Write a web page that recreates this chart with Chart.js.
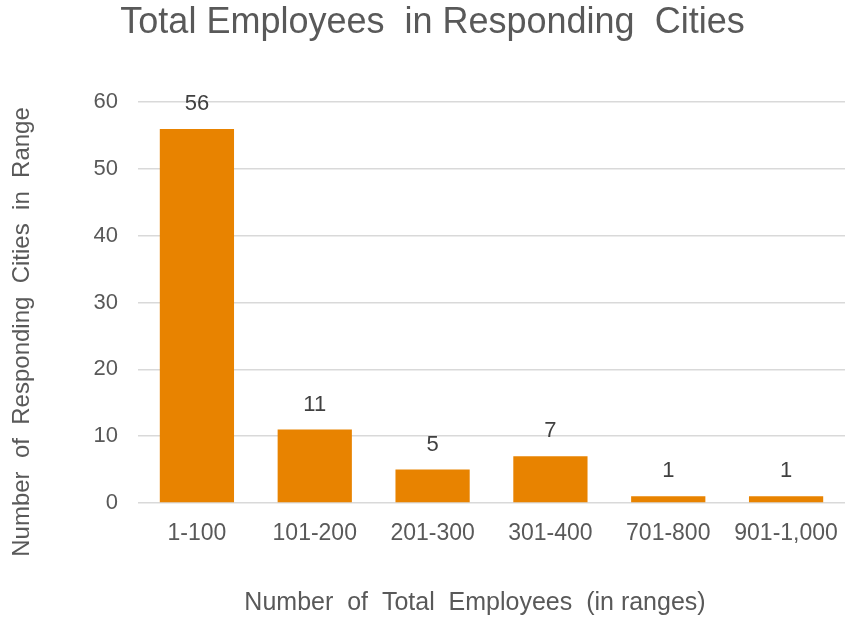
<!DOCTYPE html>
<html>
<head>
<meta charset="utf-8">
<script src="https://cdn.jsdelivr.net/npm/chart.js@4"></script>
<style>
  html, body { margin: 0; padding: 0; background: #fff; }
  #wrap { width: 849px; height: 621px; }
</style>
</head>
<body>
<div id="wrap"><canvas id="myChart" width="849" height="621"></canvas></div>
<script>
let categories = ['1-100', '101-200', '201-300', '301-400', '701-800', '901-1,000'];
let cityCounts = [56, 11, 5, 7, 1, 1];
let yTicks = [0, 10, 20, 30, 40, 50, 60];

let textGray = '#595959';
let barColor = '#E88300';
let fontName = '"Liberation Sans", Arial, sans-serif';

// value labels above each bar + the two axis titles
let extraText = {
  id: 'extraText',
  afterDatasetsDraw(chart) {
    let ctx = chart.ctx;
    let meta = chart.getDatasetMeta(0);
    ctx.save();
    ctx.font = '22px ' + fontName;
    ctx.fillStyle = '#404040';
    ctx.textAlign = 'center';
    ctx.textBaseline = 'middle';
    meta.data.forEach((bar, i) => {
      ctx.fillText(cityCounts[i], bar.x, bar.y - 25);
    });

    ctx.fillStyle = textGray;
    ctx.font = '25px ' + fontName;
    ctx.fillText('Number  of  Total  Employees  (in ranges)', 475, 603);

    ctx.font = '24px ' + fontName;
    ctx.translate(22, 332);
    ctx.rotate(-Math.PI / 2);
    ctx.fillText('Number  of  Responding  Cities  in  Range', 0, 0);
    ctx.restore();
  }
};

let ctx1 = document.getElementById('myChart').getContext('2d');
let myChart = new Chart(ctx1, {
  type: 'bar',
  data: {
    labels: categories,
    datasets: [{
      data: cityCounts,
      backgroundColor: barColor,
      borderWidth: 0,
      barPercentage: 0.63,
      categoryPercentage: 1
    }]
  },
  options: {
    responsive: false,
    animation: false,
    layout: { padding: { left: 20, right: 4, top: 0, bottom: 0 } },
    plugins: {
      legend: { display: false },
      tooltip: { enabled: false },
      title: {
        display: true,
        text: 'Total Employees  in Responding  Cities',
        color: textGray,
        font: { family: fontName, size: 36, weight: 'normal' },
        padding: { top: 1, bottom: 58 }
      }
    },
    scales: {
      x: {
        grid: { display: false },
        border: { display: false },
        ticks: {
          color: textGray,
          font: { family: fontName, size: 23 },
          padding: 9,
          maxRotation: 0
        },
        afterFit(scale) { scale.height = 118; }
      },
      y: {
        min: 0,
        max: 60,
        afterBuildTicks(scale) { scale.ticks = yTicks.map(v => ({ value: v })); },
        grid: { color: '#D9D9D9', lineWidth: 1.5, drawTicks: false },
        border: { display: false },
        ticks: {
          color: textGray,
          font: { family: fontName, size: 22 },
          padding: 20
        },
        afterFit(scale) { scale.width = 118; }
      }
    }
  },
  plugins: [extraText]
});
</script>
</body>
</html>
